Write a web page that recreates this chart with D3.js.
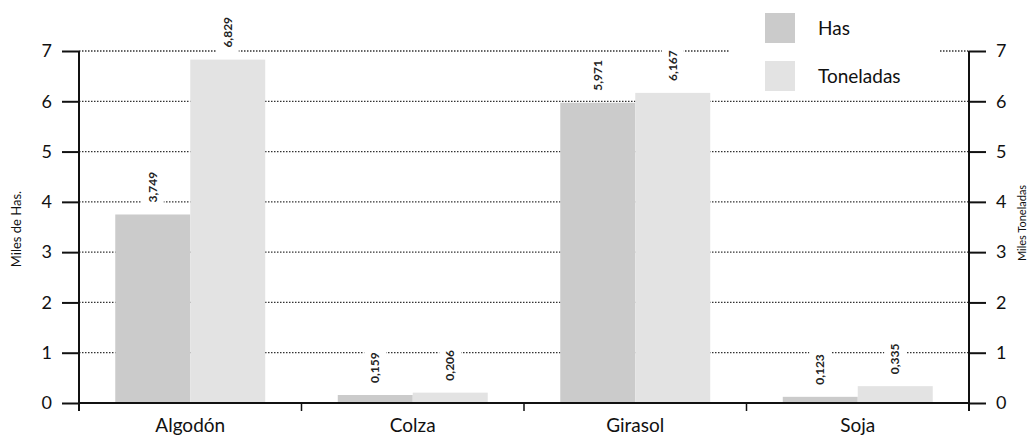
<!DOCTYPE html>
<html>
<head>
<meta charset="utf-8">
<script src="https://cdn.jsdelivr.net/npm/d3@7"></script>
<style>
  body { margin: 0; background: #fff; }
  svg { display: block; font-family: "Lato", "Open Sans", sans-serif; }
</style>
</head>
<body>
<svg id="chart" width="1029" height="437"></svg>
<script>
const categories = ["Algodón", "Colza", "Girasol", "Soja"];
const seriesNames = ["Has", "Toneladas"];
const hasValues = [3.749, 0.159, 5.971, 0.123];
const tonValues = [6.829, 0.206, 6.167, 0.335];
const hasLabels = ["3,749", "0,159", "5,971", "0,123"];
const tonLabels = ["6,829", "0,206", "6,167", "0,335"];
const yTicks = [0, 1, 2, 3, 4, 5, 6, 7];
const leftTitle = "Miles de Has.";
const rightTitle = "Miles Toneladas";

const colors = { Has: "#cbcbcb", Toneladas: "#e3e3e3" };

const svg = d3.select("#chart");
const x0 = 79, x1 = 969, yBottom = 403, yTop = 51;

const y = d3.scaleLinear().domain([0, 7]).range([yBottom, yTop]);
const xBand = d3.scaleBand().domain(categories).range([x0, x1]).paddingInner(0.326).paddingOuter(0.163);
const xEdge = d3.scaleBand().domain(categories).range([x0, x1]).padding(0);
const xSub = d3.scaleBand().domain(seriesNames).range([0, xBand.bandwidth()]).padding(0);

const data = categories.map((c, i) => ({
  cat: c,
  values: [
    { key: "Has", value: hasValues[i], label: hasLabels[i] },
    { key: "Toneladas", value: tonValues[i], label: tonLabels[i] }
  ]
}));

// gridlines
svg.append("g").selectAll("line")
  .data(yTicks.filter(d => d > 0))
  .join("line")
  .attr("x1", x0).attr("x2", x1)
  .attr("y1", d => y(d)).attr("y2", d => y(d))
  .attr("stroke", "#333")
  .attr("stroke-width", 1.3)
  .attr("stroke-dasharray", "1.5,1.5");

// bars
const groups = svg.append("g").selectAll("g")
  .data(data).join("g")
  .attr("transform", d => `translate(${xBand(d.cat)},0)`);

groups.selectAll("rect")
  .data(d => d.values).join("rect")
  .attr("x", d => xSub(d.key))
  .attr("width", xSub.bandwidth())
  .attr("y", d => y(d.value))
  .attr("height", d => yBottom - y(d.value))
  .attr("fill", d => colors[d.key]);

// value labels (rotated) with white background
const labelG = groups.selectAll("g.lbl")
  .data(d => d.values).join("g")
  .attr("class", "lbl")
  .attr("transform", d => `translate(${xSub(d.key) + xSub.bandwidth() / 2},${y(d.value) - 12}) rotate(-90)`);

labelG.append("rect")
  .attr("x", -5).attr("y", -11)
  .attr("width", d => d.label.length * 6.6 + 10)
  .attr("height", 22)
  .attr("fill", "#fff");

labelG.append("text")
  .attr("x", 0).attr("y", 0)
  .attr("dy", "0.35em")
  .attr("font-size", 12)
  .attr("font-weight", 700)
  .attr("fill", "#222")
  .text(d => d.label);

// left axis
const leftAxis = d3.axisLeft(y).tickValues(yTicks).tickSize(17).tickPadding(10).tickFormat(d3.format("d"));
const gl = svg.append("g").attr("transform", `translate(${x0},0)`).call(leftAxis);
gl.select(".domain").attr("stroke", "#111").attr("stroke-width", 2).attr("d", `M0,${yBottom + 8}V${yTop}`);
gl.selectAll(".tick line").attr("stroke", "#111").attr("stroke-width", 2);
gl.selectAll(".tick text").attr("font-size", 18).attr("fill", "#111").attr("font-family", "Lato, sans-serif");

// right axis
const rightAxis = d3.axisRight(y).tickValues(yTicks).tickSize(17).tickPadding(10).tickFormat(d3.format("d"));
const gr = svg.append("g").attr("transform", `translate(${x1},0)`).call(rightAxis);
gr.select(".domain").attr("stroke", "#111").attr("stroke-width", 2).attr("d", `M0,${yBottom + 8}V${yTop}`);
gr.selectAll(".tick line").attr("stroke", "#111").attr("stroke-width", 2);
gr.selectAll(".tick text").attr("font-size", 18).attr("fill", "#111").attr("font-family", "Lato, sans-serif");

// bottom axis line
svg.append("line")
  .attr("x1", x0).attr("x2", x1)
  .attr("y1", yBottom).attr("y2", yBottom)
  .attr("stroke", "#111").attr("stroke-width", 2.2);

// category boundary ticks
svg.append("g").selectAll("line")
  .data(categories.slice(1))
  .join("line")
  .attr("x1", d => xEdge(d)).attr("x2", d => xEdge(d))
  .attr("y1", yBottom).attr("y2", yBottom + 8)
  .attr("stroke", "#111").attr("stroke-width", 1.5);

// category labels
svg.append("g").selectAll("text")
  .data(categories).join("text")
  .attr("x", d => xEdge(d) + xEdge.bandwidth() / 2)
  .attr("y", 432)
  .attr("text-anchor", "middle")
  .attr("font-size", 19)
  .attr("fill", "#111")
  .text(d => d);

// axis titles
svg.append("text")
  .attr("transform", `translate(21,${(yTop + yBottom) / 2 + 2}) rotate(-90)`)
  .attr("text-anchor", "middle")
  .attr("font-size", 13)
  .attr("fill", "#111")
  .text(leftTitle);

svg.append("text")
  .attr("transform", `translate(1026,${(yTop + yBottom) / 2 - 4}) rotate(-90)`)
  .attr("text-anchor", "middle")
  .attr("font-size", 11)
  .attr("fill", "#111")
  .text(rightTitle);

// legend
const legend = svg.append("g");
legend.append("rect").attr("x", 730).attr("y", 0).attr("width", 210).attr("height", 96).attr("fill", "#fff");
const li = legend.selectAll("g.item").data(seriesNames).join("g")
  .attr("class", "item")
  .attr("transform", (d, i) => `translate(765,${13 + i * 48})`);
li.append("rect").attr("width", 30).attr("height", 30).attr("fill", d => colors[d]);
li.append("text")
  .attr("x", 53).attr("y", 15).attr("dy", "0.35em")
  .attr("font-size", 19).attr("fill", "#111")
  .text(d => d);
</script>
</body>
</html>
